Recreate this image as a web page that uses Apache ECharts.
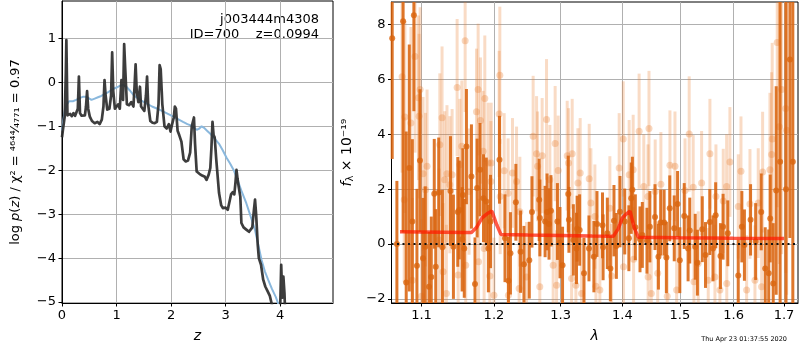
<!DOCTYPE html>
<html>
<head>
<meta charset="utf-8">
<script src="https://cdn.jsdelivr.net/npm/echarts@6/dist/echarts.min.js"></script>
<style>
  html, body { margin: 0; padding: 0; background: #fff; }
  #chart { width: 800px; height: 350px; }
</style>
</head>
<body>
<div id="chart"></div>
<script>
// --- left panel: p(z)
const zGrid = [0, 0.02, 0.05, 0.07, 0.08, 0.1, 0.12, 0.15, 0.18, 0.21, 0.24, 0.27, 0.29, 0.31, 0.33, 0.36, 0.39, 0.42, 0.44, 0.46,
  0.48, 0.51, 0.55, 0.6, 0.65, 0.69, 0.73, 0.76, 0.78, 0.8, 0.83, 0.87, 0.9, 0.92, 0.94, 0.97, 1.0, 1.03, 1.06, 1.09,
  1.12, 1.14, 1.16, 1.19, 1.23, 1.27, 1.31, 1.33, 1.35, 1.37, 1.4, 1.43, 1.45, 1.48, 1.51, 1.54, 1.56, 1.58, 1.62, 1.66,
  1.7, 1.74, 1.77, 1.79, 1.81, 1.84, 1.88, 1.92, 1.96, 1.99, 2.02, 2.05, 2.07, 2.09, 2.12, 2.15, 2.19, 2.23, 2.27, 2.31,
  2.35, 2.38, 2.42, 2.44, 2.47, 2.52, 2.57, 2.62, 2.65, 2.69, 2.72, 2.74, 2.76, 2.78, 2.8, 2.83, 2.88, 2.92, 2.95, 3.0,
  3.04, 3.07, 3.1, 3.13, 3.16, 3.18, 3.2, 3.22, 3.24, 3.27, 3.29, 3.33, 3.38, 3.43, 3.46, 3.49, 3.52, 3.54, 3.56, 3.59,
  3.61, 3.65, 3.69, 3.73, 3.77, 3.81, 3.85, 3.89, 3.94, 3.98, 4.0, 4.02, 4.04, 4.06, 4.08, 4.1];
const logpChi2 = [-1.25, -1.05, -0.78, 0.2, 0.96, -0.75, -0.78, -0.72, -0.77, -0.7, -0.76, -0.72, -0.6, 0.13, -0.7, -0.76, -0.72, -0.75, -0.55, -0.2,
  -0.6, -0.78, -0.88, -0.93, -0.9, -0.95, -0.85, -0.55, 0.05, -0.3, -0.62, -0.6, -0.3, 0.68, -0.2, -0.6, -0.58, -0.5, -0.6, 0.05,
  -0.4, 0.87, 0.3, -0.5, -0.52, -0.45, -0.55, -0.1, 0.41, -0.2, -0.45, -0.1, -0.55, -0.6, -0.65, -0.3, 0.13, -0.5, -0.88, -0.92,
  -0.93, -0.9, -0.5, 0.39, 0.3, -0.5, -1.0, -1.05, -0.95, -1.12, -0.95, -0.8, -0.55, -0.6, -1.1, -1.2, -1.35, -1.75, -1.8, -1.78,
  -1.6, -1.0, -0.8, -1.4, -2.03, -2.08, -2.12, -2.15, -2.22, -2.1, -1.95, -1.5, -0.9, -1.2, -1.25, -1.77, -2.52, -2.8, -2.86, -2.85,
  -2.9, -2.88, -2.55, -2.5, -2.55, -2.3, -1.99, -2.2, -2.37, -2.6, -3.2, -3.3, -3.35, -3.4, -3.43, -3.3, -2.9, -2.67, -3.0, -3.7,
  -4.0, -4.15, -4.49, -4.65, -4.75, -4.85, -5.06, -5.3, -5.4, -5.4, -5.2, -4.15, -4.9, -4.42, -4.8, -5.5];
const zSmooth = [0, 0.02, 0.05, 0.09, 0.13, 0.2, 0.26, 0.32, 0.38, 0.45, 0.54, 0.6, 0.66, 0.72, 0.78, 0.84, 0.9, 0.96, 1.03, 1.08,
  1.12, 1.18, 1.24, 1.32, 1.43, 1.55, 1.65, 1.75, 1.85, 1.98, 2.1, 2.22, 2.3, 2.36, 2.42, 2.47, 2.52, 2.56, 2.6, 2.66,
  2.72, 2.8, 2.88, 2.95, 3.02, 3.08, 3.15, 3.23, 3.3, 3.38, 3.46, 3.54, 3.6, 3.66, 3.72, 3.78, 3.85, 3.92, 3.97];
const logpSmooth = [-1.1, -0.9, -0.65, -0.5, -0.43, -0.43, -0.4, -0.36, -0.33, -0.33, -0.4, -0.37, -0.34, -0.31, -0.27, -0.23, -0.18, -0.14, -0.1, -0.07,
  -0.06, -0.1, -0.18, -0.3, -0.4, -0.48, -0.55, -0.6, -0.66, -0.74, -0.82, -0.9, -0.95, -0.98, -1.03, -1.08, -1.05, -1.0, -1.03, -1.1,
  -1.17, -1.28, -1.4, -1.55, -1.72, -1.84, -2.0, -2.26, -2.5, -2.75, -3.05, -3.36, -3.7, -4.04, -4.3, -4.49, -4.7, -4.88, -5.05];
const zTicks = [0, 1, 2, 3, 4];
const logpTicks = [-5, -4, -3, -2, -1, 0, 1];

// --- right panel: spectrum
const darkLam = [1.062, 1.068, 1.076, 1.080, 1.084, 1.088, 1.090, 1.094, 1.098, 1.102,
  1.105, 1.110, 1.113, 1.117, 1.119, 1.123, 1.128, 1.139, 1.143, 1.149,
  1.151, 1.155, 1.156, 1.158, 1.161, 1.168, 1.173, 1.176, 1.180, 1.185,
  1.189, 1.192, 1.195, 1.208, 1.216, 1.221, 1.224, 1.232, 1.239, 1.244,
  1.252, 1.256, 1.267, 1.268, 1.276, 1.279, 1.282, 1.285, 1.295, 1.299,
  1.303, 1.312, 1.313, 1.320, 1.325, 1.326, 1.330, 1.337, 1.345, 1.353,
  1.358, 1.367, 1.368, 1.375, 1.380, 1.386, 1.390, 1.396, 1.404, 1.411,
  1.415, 1.417, 1.422, 1.430, 1.434, 1.442, 1.447, 1.456, 1.462, 1.466,
  1.472, 1.476, 1.482, 1.490, 1.496, 1.500, 1.508, 1.515, 1.518, 1.528,
  1.532, 1.541, 1.547, 1.555, 1.561, 1.566, 1.575, 1.580, 1.589, 1.609,
  1.616, 1.621, 1.633, 1.643, 1.654, 1.662, 1.669, 1.672, 1.678, 1.684,
  1.692, 1.704, 1.712, 1.718];
const darkFlux = [7.5, 0.0, 8.12, -1.4, 2.77, 0.82, 8.34, -0.79, 3.04, -0.52,
  -0.1, -1.56, -1.2, 1.83, -0.83, 1.88, -0.12, 1.93, -0.1, 1.17,
  1.24, 0.17, 1.79, -0.16, 3.55, 2.46, -1.46, 2.04, 2.71, 1.67,
  1.55, -0.16, 0.82, 3.07, 0.21, -1.34, -0.34, 1.52, -0.28, -0.74,
  -0.59, 1.17, 1.61, 0.95, 0.82, 1.17, 0.73, 1.21, 0.82, 0.05,
  -0.77, 1.82, 0.88, 0.15, -0.16, 0.56, 0.51, -1.07, -0.16, -0.46,
  0.73, 0.68, -0.12, 0.39, -0.89, 0.85, -0.07, 1.18, 0.82, 0.21,
  1.67, 1.98, 0.61, 0.17, 0.33, 0.12, 0.63, 0.98, -0.46, 0.78,
  0.78, -0.49, 1.3, 0.57, 1.46, -0.59, 1.02, -0.16, 0.49, -0.1,
  -0.68, 0.54, -0.4, 0.8, -0.16, 1.05, -0.44, 0.63, 0.39, -1.15,
  0.63, -0.04, 0.88, 0.09, 1.17, -0.89, -1.07, 0.93, -1.44, 1.95,
  3.0, 2.0, 6.72, 3.0];
const darkErr = [4.4, 2.3, 7.7, 5.5, 4.5, 3.0, 3.5, 2.8, 2.6, 2.2,
  2.2, 2.0, 2.2, 2.0, 2.1, 2.0, 2.1, 2.0, 1.9, 2.0,
  1.8, 1.9, 1.7, 1.8, 2.1, 1.9, 1.7, 1.8, 1.7, 1.6,
  1.6, 1.6, 1.7, 1.6, 1.6, 1.6, 1.5, 1.4, 1.5, 1.4,
  1.4, 1.3, 1.5, 1.4, 1.3, 1.4, 1.3, 1.3, 1.4, 1.3,
  1.4, 1.4, 1.2, 1.3, 1.3, 1.2, 1.3, 1.3, 1.2, 1.3,
  1.2, 1.2, 1.2, 1.3, 1.2, 1.3, 1.2, 1.3, 1.2, 1.2,
  1.3, 1.2, 1.2, 1.2, 1.2, 1.2, 1.3, 1.2, 1.2, 1.2,
  1.2, 1.3, 1.2, 1.2, 1.2, 1.2, 1.2, 1.2, 1.2, 1.2,
  1.2, 1.2, 1.2, 1.2, 1.2, 1.2, 1.2, 1.2, 1.2, 1.3,
  1.3, 1.3, 1.3, 1.4, 1.4, 1.5, 1.6, 1.6, 2.2, 3.8,
  7.0, 8.0, 6.5, 8.0];
const lightLam = [1.0747, 1.0774, 1.0783, 1.0861, 1.0881, 1.0915, 1.0960, 1.0968, 1.0982, 1.1000,
  1.1021, 1.1053, 1.1074, 1.1235, 1.1245, 1.1275, 1.1289, 1.1311, 1.1334, 1.1342,
  1.1381, 1.1412, 1.1481, 1.1495, 1.1518, 1.1546, 1.1592, 1.1600, 1.1647, 1.1751,
  1.1774, 1.1780, 1.1807, 1.1845, 1.1859, 1.1869, 1.1917, 1.1941, 1.1956, 1.1960,
  1.2000, 1.2075, 1.2085, 1.2090, 1.2148, 1.2206, 1.2210, 1.2270, 1.2330, 1.2368,
  1.2379, 1.2478, 1.2578, 1.2630, 1.2645, 1.2679, 1.2715, 1.2782, 1.2833, 1.2884,
  1.2915, 1.2937, 1.2962, 1.3103, 1.3125, 1.3172, 1.3182, 1.3241, 1.3273, 1.3309,
  1.3331, 1.3454, 1.3481, 1.3546, 1.3563, 1.3627, 1.3792, 1.3820, 1.3947, 1.4015,
  1.4020, 1.4115, 1.4183, 1.4190, 1.4285, 1.4365, 1.4437, 1.4440, 1.4455, 1.4495,
  1.4563, 1.4607, 1.4663, 1.4775, 1.4823, 1.4913, 1.4943, 1.5094, 1.5170, 1.5243,
  1.5257, 1.5335, 1.5398, 1.5521, 1.5552, 1.5646, 1.5665, 1.5740, 1.5803, 1.5867,
  1.5870, 1.5930, 1.6091, 1.6143, 1.6253, 1.6318, 1.6416, 1.6481, 1.6548, 1.6568,
  1.6714, 1.6748, 1.6760, 1.6861, 1.6902, 1.6951, 1.7033, 1.7053];
const lightFlux = [6.1, 1.61, 4.63, 4.41, -1.32, 6.83, 5.33, 4.66, 5.63, -1.9,
  2.56, 1.98, 2.83, 0.15, 3.62, 4.6, -1.01, 2.34, -1.8, 2.56,
  2.16, 2.52, 5.7, -1.13, 2.89, 3.56, 7.41, -0.77, 1.91, 4.82,
  5.63, -0.65, 4.5, 3.38, -0.16, 5.3, 2.95, -1.17, 2.28, 2.95,
  -1.87, 4.74, 6.15, 1.73, 2.67, 1.85, -1.87, 2.59, 2.28, -1.62,
  1.18, -1.2, 3.93, 3.29, 2.83, -1.56, 3.22, 4.54, 2.34, -0.77,
  3.66, -1.5, 2.68, 3.22, 2.95, -1.26, 3.29, -1.5, 2.22, 2.59,
  -1.8, 2.38, 1.49, 1.0, -1.54, -1.68, 1.3, -1.17, 2.77, 3.83,
  -0.83, 2.52, 2.71, -0.56, 4.11, 2.1, 1.73, -1.2, 4.21, -1.8,
  1.91, -1.07, 2.18, -1.9, 2.87, 2.83, -1.68, 1.95, 4.01, 2.07,
  -1.38, -0.71, 2.22, -1.32, 3.29, -1.2, 1.73, -1.68, 1.57, 2.1,
  -1.44, 2.99, 1.37, 2.65, -1.68, 1.46, -1.32, 1.49, -1.56, 2.62,
  2.71, 3.26, 3.83, 7.34, 4.27, 5.63, 4.94, 4.15];
const lightErr = [3.5, 3.0, 3.5, 3.5, 3.0, 3.5, 3.0, 3.0, 3.0, 2.8,
  2.8, 2.8, 2.8, 2.6, 2.6, 2.6, 2.5, 2.5, 2.5, 2.5,
  2.5, 2.4, 2.5, 2.4, 2.4, 2.4, 2.6, 2.4, 2.3, 2.3,
  2.4, 2.3, 2.3, 2.2, 2.2, 2.3, 2.2, 2.2, 2.2, 2.2,
  2.1, 2.3, 2.5, 2.1, 2.1, 2.0, 2.0, 2.0, 2.0, 2.0,
  2.0, 2.0, 2.2, 2.1, 2.0, 2.0, 2.1, 2.2, 2.0, 2.0,
  2.1, 2.0, 2.0, 2.0, 2.0, 2.0, 2.0, 2.0, 2.0, 2.0,
  2.0, 2.0, 2.0, 1.9, 1.9, 1.9, 1.9, 1.9, 2.0, 2.1,
  1.9, 2.0, 2.0, 1.9, 2.1, 1.9, 1.9, 1.9, 2.1, 1.9,
  1.9, 1.9, 1.9, 1.9, 2.0, 2.0, 1.9, 1.9, 2.1, 1.9,
  1.9, 1.9, 1.9, 1.9, 2.0, 1.9, 1.9, 1.9, 1.9, 1.9,
  1.9, 2.0, 1.9, 2.0, 2.0, 2.0, 2.0, 2.0, 2.1, 2.2,
  2.8, 3.0, 3.5, 6.0, 5.0, 6.0, 6.0, 6.0];
const modelLam = [1.072, 1.10, 1.13, 1.16, 1.168, 1.175, 1.183, 1.19, 1.197, 1.204, 1.21, 1.25,
  1.30, 1.35, 1.385, 1.393, 1.40, 1.407, 1.413, 1.42, 1.427, 1.5, 1.6, 1.70];
const modelFlux = [0.45, 0.44, 0.43, 0.42, 0.42, 0.6, 0.95, 1.1, 1.2, 0.7, 0.35, 0.33,
  0.31, 0.29, 0.28, 0.55, 0.95, 1.1, 1.2, 0.6, 0.25, 0.23, 0.21, 0.2];
const lamTicks = [1.1, 1.2, 1.3, 1.4, 1.5, 1.6, 1.7];
const fluxTicks = [-2, 0, 2, 4, 6, 8];

const FONT = 'DejaVu Sans';
const minus = v => String(v).replace('-', '\u2212');

function baseAxis(gridIndex, ticks, fmt) {
  return {
    type: 'value',
    gridIndex: gridIndex,
    axisLine: { show: true, onZero: false, lineStyle: { color: '#000', width: 1 } },
    axisTick: { show: true, length: 3.5, customValues: ticks, lineStyle: { color: '#000' } },
    axisLabel: { customValues: ticks, color: '#000', fontSize: 13, fontFamily: FONT, margin: 6, formatter: fmt },
    splitLine: { show: true, lineStyle: { color: '#b0b0b0', width: 1 } },
    nameTextStyle: { color: '#000', fontFamily: FONT, fontSize: 14 }
  };
}

function errorBars(lam, flux, err, color, w, z) {
  return {
    type: 'custom', xAxisIndex: 1, yAxisIndex: 1, z: z, silent: true,
    data: lam.map((l, i) => [Math.log(l), flux[i] - err[i], flux[i] + err[i]]),
    encode: { x: 0, y: [1, 2] },
    renderItem: function (params, api) {
      const hi = api.coord([api.value(0), api.value(2)]);
      const lo = api.coord([api.value(0), api.value(1)]);
      const cs = params.coordSys;
      const y0 = Math.max(hi[1], cs.y);
      const y1 = Math.min(lo[1], cs.y + cs.height);
      if (y1 <= y0) return null;
      return { type: 'rect', shape: { x: hi[0] - w / 2, y: y0, width: w, height: y1 - y0 }, style: { fill: color } };
    }
  };
}

function dots(lam, flux, color, size, z) {
  return {
    type: 'scatter', xAxisIndex: 1, yAxisIndex: 1, z: z, silent: true,
    symbolSize: size, itemStyle: { color: color },
    data: lam.map((l, i) => [Math.log(l), flux[i]])
  };
}

const xLeft = baseAxis(0, zTicks, v => minus(v));
Object.assign(xLeft, { min: 0, max: 4.97, name: 'z', nameLocation: 'middle', nameGap: 26 });
xLeft.nameTextStyle.fontStyle = 'italic';

const yLeft = baseAxis(0, logpTicks, v => minus(v));
Object.assign(yLeft, {
  min: -5.02, max: 1.85,
  name: 'log {i|p}({i|z}) / \u03c7\u00b2 = \u2074\u2076\u2074\u2074\u2044\u2084\u2087\u2087\u2081 = 0.97',
  nameLocation: 'middle', nameGap: 40
});
yLeft.nameTextStyle.fontSize = 13;
yLeft.nameTextStyle.rich = { i: { fontStyle: 'italic', fontSize: 13, fontFamily: FONT, color: '#000' } };

const xRight = baseAxis(1, lamTicks.map(Math.log), v => Math.exp(v).toFixed(1));
Object.assign(xRight, { min: Math.log(1.0611), max: Math.log(1.7287), name: '\u03bb', nameLocation: 'middle', nameGap: 26 });
xRight.nameTextStyle.fontStyle = 'italic';

const yRight = baseAxis(1, fluxTicks, v => minus(v));
Object.assign(yRight, {
  min: -2.15, max: 8.82,
  name: '{i|f}{s|\u03bb} \u00d7 10\u207b\u00b9\u2079',
  nameLocation: 'middle', nameGap: 36
});
yRight.nameTextStyle.rich = {
  i: { fontStyle: 'italic', fontSize: 14, fontFamily: FONT, color: '#000' },
  s: { fontSize: 10, fontFamily: FONT, color: '#000', padding: [6, 0, 0, 0] }
};

const option = {
  animation: false,
  backgroundColor: '#fff',
  grid: [
    { left: 62, top: 1, width: 271, height: 302, show: true, borderColor: '#000', borderWidth: 1 },
    { left: 391.5, top: 2, width: 406.5, height: 301, show: true, borderColor: '#000', borderWidth: 1 }
  ],
  xAxis: [xLeft, xRight],
  yAxis: [yLeft, yRight],
  series: [
    {
      type: 'line', xAxisIndex: 0, yAxisIndex: 0, z: 2, showSymbol: false, silent: true,
      lineStyle: { color: '#8ab8dd', width: 2 },
      data: zSmooth.map((z, i) => [z, logpSmooth[i]])
    },
    {
      type: 'line', xAxisIndex: 0, yAxisIndex: 0, z: 3, showSymbol: false, silent: true,
      lineStyle: { color: 'rgba(45,45,45,0.92)', width: 2.7, join: 'round' },
      data: zGrid.map((z, i) => [z, logpChi2[i]])
    },
    errorBars(lightLam, lightFlux, lightErr, 'rgba(232,125,45,0.28)', 3, 2),
    dots(lightLam, lightFlux, 'rgba(232,125,45,0.38)', 7, 2),
    errorBars(darkLam, darkFlux, darkErr, 'rgba(218,100,15,0.88)', 3, 3),
    dots(darkLam, darkFlux, '#d9650f', 6, 3),
    {
      type: 'line', xAxisIndex: 1, yAxisIndex: 1, z: 5, showSymbol: false, silent: true,
      lineStyle: { color: 'rgba(255,25,0,0.72)', width: 3.5 },
      data: modelLam.map((l, i) => [Math.log(l), modelFlux[i]]),
      markLine: {
        silent: true, symbol: ['none', 'none'], label: { show: false },
        lineStyle: { color: '#111', type: [2, 3.5], width: 2 },
        data: [{ yAxis: 0 }]
      }
    }
  ],
  graphic: [
    { type: 'text', style: { x: 319, y: 20, text: 'j003444m4308', align: 'right', verticalAlign: 'middle', fontSize: 13, fontFamily: FONT, fill: '#000' } },
    { type: 'text', style: { x: 319, y: 35, text: 'ID=700    z=0.0994', align: 'right', verticalAlign: 'middle', fontSize: 13, fontFamily: FONT, fill: '#000' } },
    { type: 'text', style: { x: 787, y: 339, text: 'Thu Apr 23 01:37:55 2020', align: 'right', verticalAlign: 'middle', fontSize: 6.5, fontFamily: FONT, fill: '#000' } }
  ]
};

const myChart = echarts.init(document.getElementById('chart'));
myChart.setOption(option);
</script>
</body>
</html>
